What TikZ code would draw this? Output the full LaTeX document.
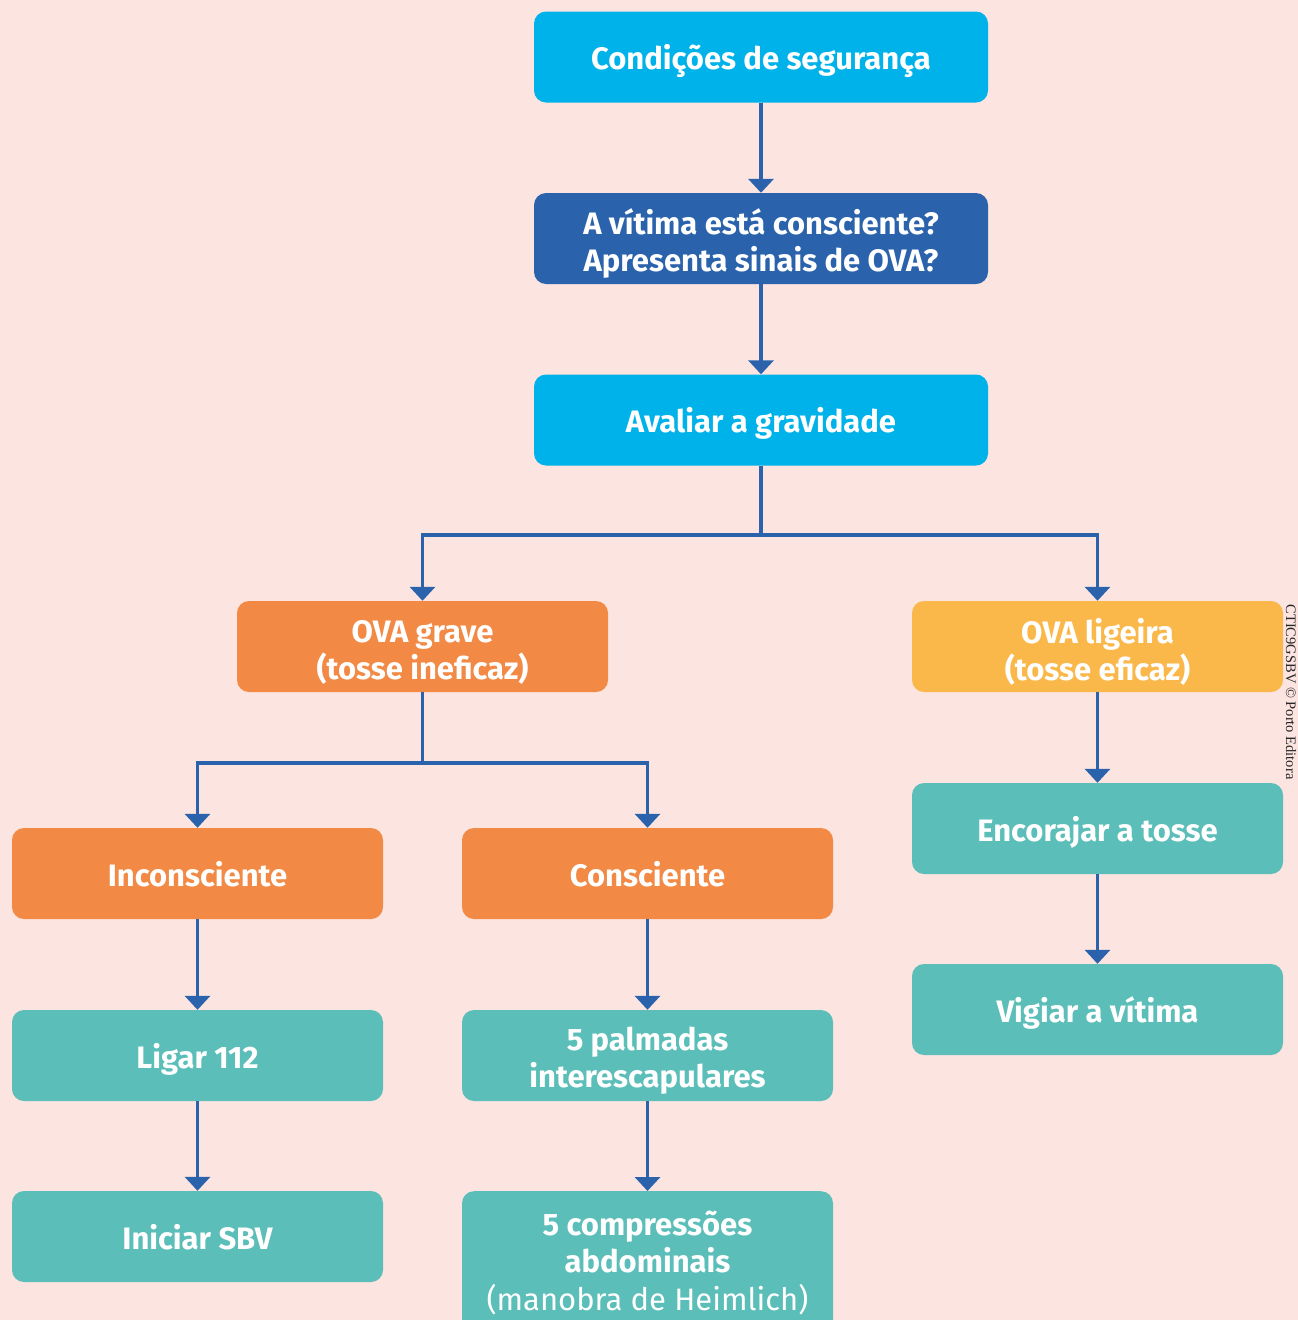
\documentclass[tikz,border=0pt]{standalone}
\usepackage{fontspec}
\setmainfont{Fira Sans}
\newfontfamily\creditfont{Liberation Serif}
\usetikzlibrary{arrows.meta}
\definecolor{bgpink}{HTML}{FCE4E0}
\definecolor{cyanbox}{HTML}{00B2EA}
\definecolor{darkblue}{HTML}{2A63AC}
\definecolor{orangebox}{HTML}{F28A45}
\definecolor{yellowbox}{HTML}{FBB84A}
\definecolor{tealbox}{HTML}{5CBEB9}
\begin{document}
\begin{tikzpicture}[x=1pt,y=-1pt,
  box/.style={rounded corners=12pt, minimum width=#1, minimum height=91pt, inner sep=0pt,
    text=white, align=center, font=\fontsize{31}{37}\selectfont\bfseries,
    execute at begin node={\rule{0pt}{34pt}},
    execute at end node={\rule[-9pt]{0pt}{9pt}}},
  box/.default=454pt,
  sbox/.style={box=371pt},
  txt/.style={inner sep=0pt, text=white, align=center, font=\fontsize{31}{37}\selectfont\bfseries},
  conn/.style={draw=darkblue, line width=3.6pt, -{Triangle[width=25pt,length=14pt]}},
  seg/.style={draw=darkblue, line width=3.6pt}]
\useasboundingbox (0,0) rectangle (1298,1320);
\fill[bgpink] (0,0) rectangle (1298,1320);
\begin{scope}
\clip (0,0) rectangle (1298,1320);
\node[box, fill=cyanbox] (c1) at (761,57) {Condições de segurança};
\node[box, fill=darkblue] (c2) at (761,238.5) {};
\node[txt] (c2t) at ([yshift=-4.5pt]c2.center) {A vítima está consciente?\\Apresenta sinais de OVA?};
\node[box, fill=cyanbox] (c3) at (761,420) {Avaliar a gravidade};
\node[sbox, fill=orangebox] (g) at (422.5,646.5) {};
\node[txt] (gt) at ([yshift=-5.5pt]g.center) {OVA grave\\(tosse ineficaz)};
\node[sbox, fill=yellowbox] (l) at (1097.5,646.5) {};
\node[txt] (lt) at ([yshift=-5.5pt]l.center) {OVA ligeira\\(tosse eficaz)};
\node[sbox, fill=orangebox] (inc) at (197.5,873.5) {Inconsciente};
\node[sbox, fill=orangebox] (con) at (647.5,873.5) {Consciente};
\node[sbox, fill=tealbox] (lig) at (197.5,1055.5) {Ligar 112};
\node[sbox, fill=tealbox] (pal) at (647.5,1055.5) {};
\node[txt] (palt) at ([yshift=-5pt]pal.center) {5 palmadas\\interescapulares};
\node[sbox, fill=tealbox] (sbv) at (197.5,1236.5) {Iniciar SBV};
\node[sbox, fill=tealbox, minimum height=150pt, anchor=north] (comp) at (647.5,1191) {};
\node[text=white, align=center, font=\fontsize{31}{37.5}\selectfont, anchor=north] (comptext) at (647.5,1207)
  {\textbf{5 compressões}\\\textbf{abdominais}\\(manobra de Heimlich)};
\node[sbox, fill=tealbox] (enc) at (1097.5,828.5) {Encorajar a tosse};
\node[sbox, fill=tealbox] (vig) at (1097.5,1009.5) {Vigiar a vítima};
\end{scope}
\coordinate (j1) at (761,535);
\coordinate (j2) at (422.5,763);
\draw[conn] (c1) -- (c2);
\draw[conn] (c2) -- (c3);
\draw[seg] (c3.south) -- (j1);
\draw[conn] (j1) -| (g.north);
\draw[conn] (j1) -| (l.north);
\draw[seg] (g.south) -- (j2);
\draw[conn] (j2) -| (inc.north);
\draw[conn] (j2) -| (con.north);
\draw[conn] (inc) -- (lig);
\draw[conn] (lig) -- (sbv);
\draw[conn] (con) -- (pal);
\draw[conn] (pal) -- (comp);
\draw[conn] (l) -- (enc);
\draw[conn] (enc) -- (vig);
\node[rotate=-90, font=\creditfont\fontsize{14.5}{14.5}\selectfont, text=black!85, anchor=center] (credit) at (1291,692) {CTIC9GSBV © Porto Editora};
\end{tikzpicture}
\end{document}
